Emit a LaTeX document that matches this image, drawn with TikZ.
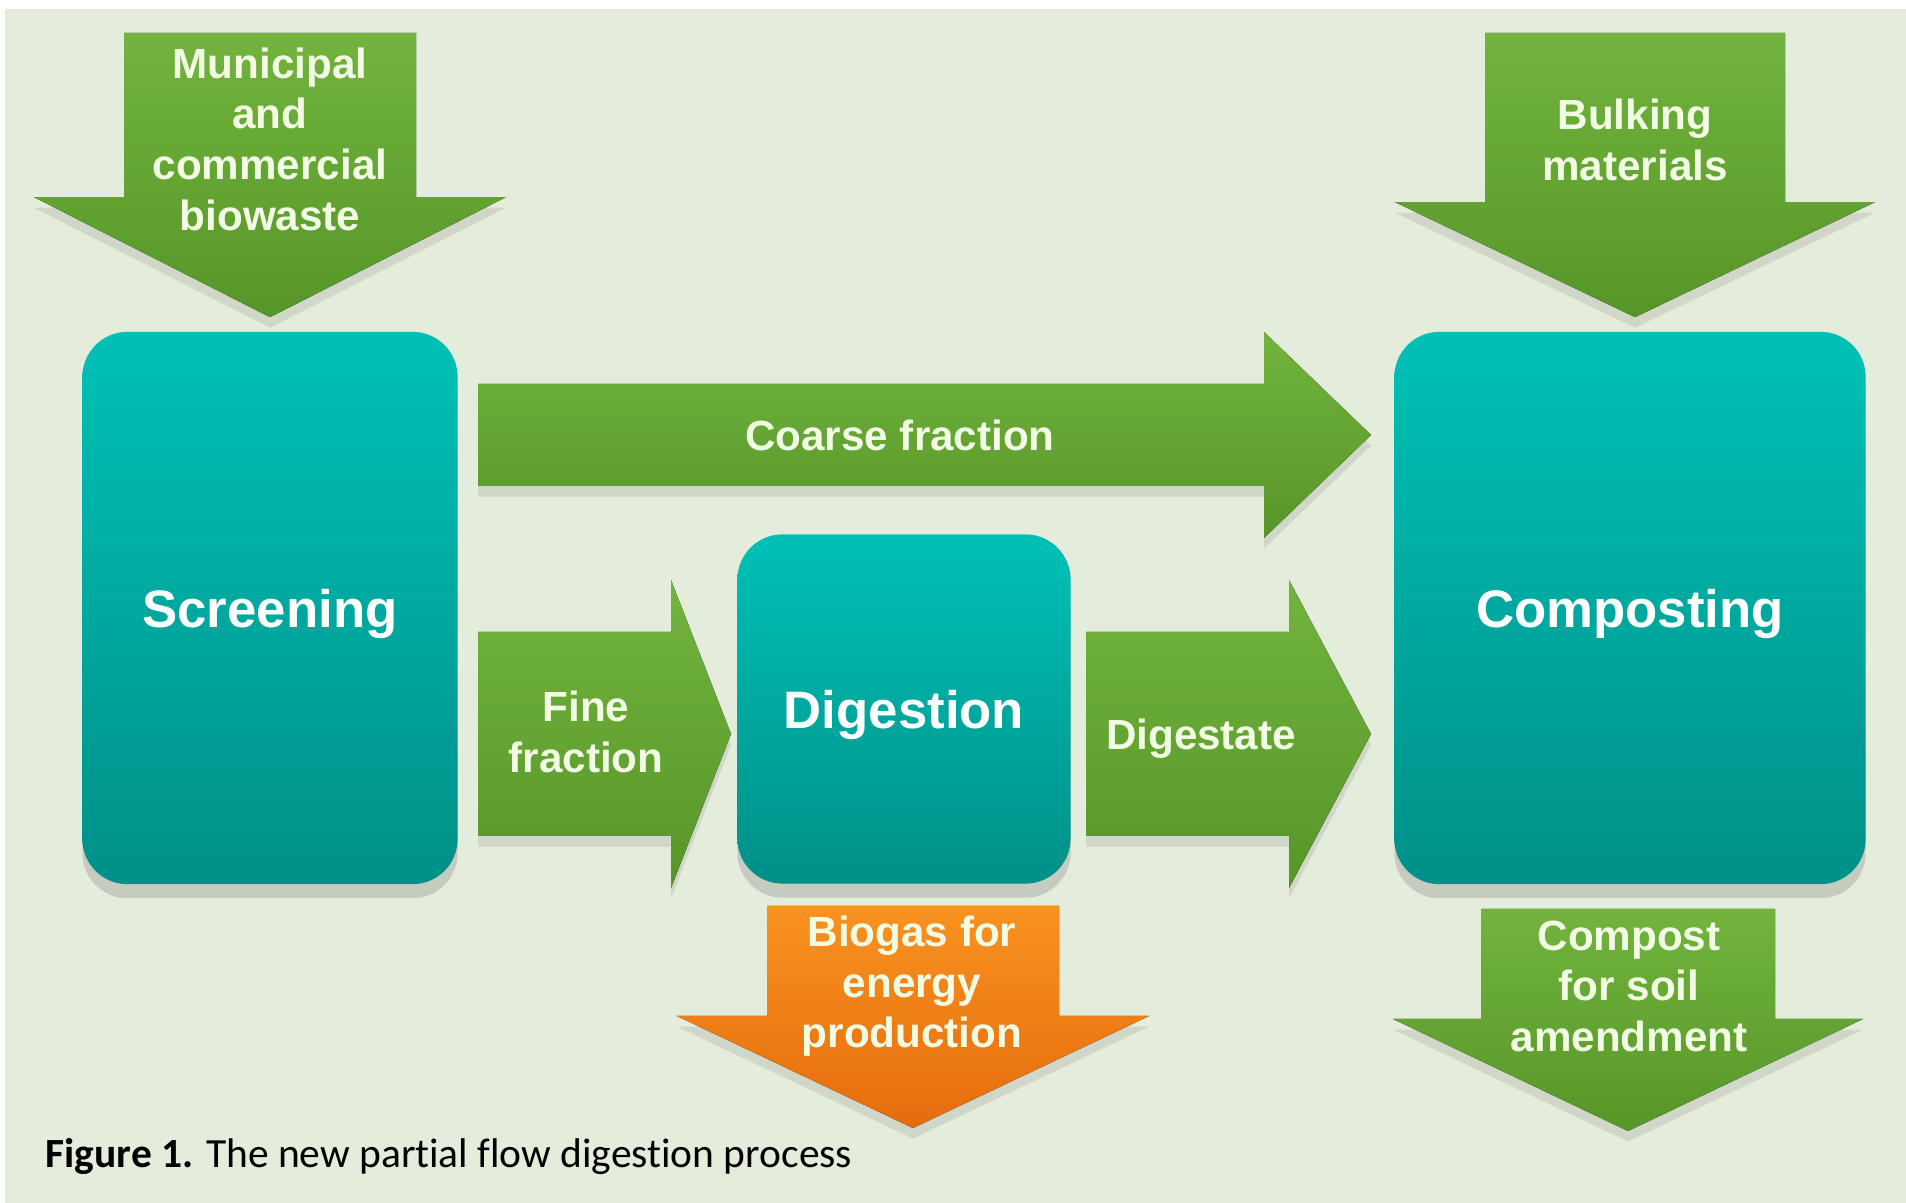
\documentclass[tikz,border=0pt]{standalone}
\usepackage{fontspec}
\setmainfont{Liberation Sans}
\newfontfamily\captionfont[Ligatures=NoCommon]{Carlito}
\usetikzlibrary{calc,shadows}

\definecolor{paper}{RGB}{228,236,219}
\definecolor{greentop}{RGB}{114,180,62}
\definecolor{greenbot}{RGB}{86,150,40}
\definecolor{tealtop}{RGB}{0,193,182}
\definecolor{tealbot}{RGB}{0,144,136}
\definecolor{orangetop}{RGB}{248,146,32}
\definecolor{orangebot}{RGB}{230,108,14}
\definecolor{labeltext}{RGB}{242,252,228}

% block arrows: [style] tail, tip, half shaft, half head, head length
\newcommand{\blockright}[6][greenflow]{%
  \fill[#1] ($(#2)+(0,#4)$) -- ($(#3)+(-#6,#4)$) -- ($(#3)+(-#6,#5)$) -- (#3)
    -- ($(#3)+(-#6,-#5)$) -- ($(#3)+(-#6,-#4)$) -- ($(#2)+(0,-#4)$) -- cycle;}
\newcommand{\blockdown}[6][greenflow]{%
  \fill[#1] ($(#2)+(-#4,0)$) -- ($(#3)+(-#4,#6)$) -- ($(#3)+(-#5,#6)$) -- (#3)
    -- ($(#3)+(#5,#6)$) -- ($(#3)+(#4,#6)$) -- ($(#2)+(#4,0)$) -- cycle;}

\begin{document}
\begin{tikzpicture}[x=0.01cm,y=0.01cm,
    process/.style={rounded corners=0.45cm,top color=tealtop,bottom color=tealbot,
      drop shadow={opacity=0.3,shadow xshift=0pt,shadow yshift=-4pt},
      text=white,text depth=0pt,font=\bfseries\fontsize{15}{18}\selectfont},
    greenflow/.style={top color=greentop,bottom color=greenbot,
      drop shadow={opacity=0.2,shadow xshift=0pt,shadow yshift=-3pt}},
    gasflow/.style={top color=orangetop,bottom color=orangebot,
      drop shadow={opacity=0.2,shadow xshift=0pt,shadow yshift=-3pt}},
    flowlabel/.style={align=center,text=labeltext,inner sep=0pt,text depth=0pt,
      font=\bfseries\fontsize{12}{14.4}\selectfont}]

    \useasboundingbox (0,0) rectangle (1906,1203);
    \fill[white] (0,0) rectangle (1906,1203);
    \fill[paper] (5,0) rectangle (1906,1194);

    % process boxes
    \node[process,minimum width=3.75cm,minimum height=5.52cm] (screen) at (270,595) {Screening};
    \node[process,minimum width=3.33cm,minimum height=3.49cm] (digest) at (904,494) {Digestion};
    \node[process,minimum width=4.71cm,minimum height=5.52cm] (compost) at (1630,595) {Composting};

    % ends of the flows
    \coordinate (waste-tip) at ([yshift=0.14cm]screen.north);
    \coordinate (waste-in) at ([yshift=2.84cm]waste-tip);
    \coordinate (bulk-tip) at ([xshift=0.05cm,yshift=0.14cm]compost.north);
    \coordinate (bulk-in) at ([yshift=2.84cm]bulk-tip);
    \coordinate (coarse-in) at (478,768);
    \coordinate (coarse-tip) at (1371,768);
    \coordinate (fine-in) at (478,469);
    \coordinate (fine-tip) at (731,469);
    \coordinate (dige-in) at (1086,469);
    \coordinate (dige-tip) at (1371,469);
    \coordinate (gas-in) at (913,297);
    \coordinate (gas-tip) at (913,75);
    \coordinate (soil-in) at (1628,294);
    \coordinate (soil-tip) at (1628,72);

    \blockdown{waste-in}{waste-tip}{146}{236}{120}
    \blockdown{bulk-in}{bulk-tip}{150}{240}{115}
    \blockright{coarse-in}{coarse-tip}{51}{103}{107}
    \blockright{fine-in}{fine-tip}{102}{154}{60}
    \blockright{dige-in}{dige-tip}{102}{154}{82}
    \blockdown[gasflow]{gas-in}{gas-tip}{146}{236}{112}
    \blockdown{soil-in}{soil-tip}{147}{235}{112}

    % flow labels
    \node[flowlabel] (waste) at (270,1064) {Municipal\\and\\commercial\\biowaste};
    \node[flowlabel] (bulk) at (1635,1063) {Bulking\\materials};
    \node[flowlabel] (coarse) at (900,768) {Coarse fraction};
    \node[flowlabel] (fine) at (586,471) {Fine\\fraction};
    \node[flowlabel] (dige) at (1201,469) {Digestate};
    \node[flowlabel] (gas) at (912,221) {Biogas for\\energy\\production};
    \node[flowlabel] (soil) at (1629,217) {Compost\\for soil\\amendment};

    \node[anchor=west,inner sep=0pt,font=\captionfont\fontsize{11.8}{14}\selectfont] (caption) at (45,46)
      {\textbf{Figure 1.} The new partial flow digestion process};
\end{tikzpicture}
\end{document}
